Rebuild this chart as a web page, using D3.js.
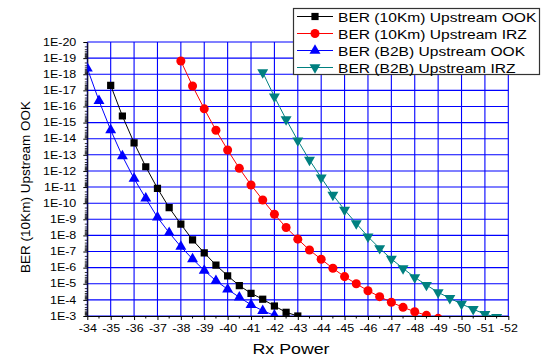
<!DOCTYPE html>
<html><head><meta charset="utf-8">
<script src="https://cdn.jsdelivr.net/npm/d3@7"></script>
<style>body{margin:0;background:#fff}svg{display:block;font-family:"Liberation Sans",Arial,sans-serif}</style>
</head><body><svg id="c" width="541" height="360"></svg>
<script>
const seriesNames = ["BER (10Km) Upstream OOK","BER (10Km) Upstream IRZ","BER (B2B) Upstream OOK","BER (B2B) Upstream IRZ"];
const pow10kmOOK = [-35,-35.5,-36,-36.5,-37,-37.5,-38,-38.5,-39,-39.5,-40,-40.5,-41,-41.5,-42,-42.5,-43];
const ber10kmOOK = [4.9e-18,3.9e-16,1.8e-14,5.5e-13,1.2e-11,1.9e-10,2.0e-9,1.9e-8,1.2e-7,6.9e-7,3.2e-6,1.3e-5,3.9e-5,9.1e-5,2.4e-4,5.9e-4,1.0e-3];
const pow10kmIRZ = [-38,-38.5,-39,-39.5,-40,-40.5,-41,-41.5,-42,-42.5,-43,-43.5,-44,-44.5,-45,-45.5,-46,-46.5,-47,-47.5,-48,-48.5,-49];
const ber10kmIRZ = [1.5e-19,5.4e-18,1.4e-16,3.0e-15,5.0e-14,6.9e-13,7.4e-12,6.3e-11,4.9e-10,3.2e-9,1.7e-8,8.1e-8,3.0e-7,1.1e-6,3.6e-6,1.0e-5,2.7e-5,6.3e-5,1.4e-4,2.9e-4,5.4e-4,9.1e-4,1.4e-3];
const powB2bOOK = [-34,-34.5,-35,-35.5,-36,-36.5,-37,-37.5,-38,-38.5,-39,-39.5,-40,-40.5,-41,-41.5,-42];
const berB2bOOK = [4.3e-19,4.4e-17,2.9e-15,1.2e-13,3.0e-12,5.0e-11,7.6e-10,6.8e-9,5.0e-8,2.9e-7,1.5e-6,6.5e-6,2.2e-5,6.9e-5,2.0e-4,4.7e-4,9.1e-4];
const powB2bIRZ = [-41.5,-42,-42.5,-43,-43.5,-44,-44.5,-45,-45.5,-46,-46.5,-47,-47.5,-48,-48.5,-49,-49.5,-50,-50.5,-51,-51.5];
const berB2bIRZ = [7.6e-19,2.5e-17,6.3e-16,1.3e-14,2.1e-13,2.6e-12,3.1e-11,2.6e-10,1.8e-9,1.2e-8,6.3e-8,2.9e-7,1.1e-6,4.0e-6,1.2e-5,3.4e-5,7.9e-5,1.8e-4,3.8e-4,7.6e-4,1.2e-3];
const xTicks = [-34,-35,-36,-37,-38,-39,-40,-41,-42,-43,-44,-45,-46,-47,-48,-49,-50,-51,-52];
const yTicks = [1e-20,1e-19,1e-18,1e-17,1e-16,1e-15,1e-14,1e-13,1e-12,1e-11,1e-10,1e-9,1e-8,1e-7,1e-6,1e-5,1e-4,1e-3];
const yTickLabels = ["1E-20","1E-19","1E-18","1E-17","1E-16","1E-15","1E-14","1E-13","1E-12","1E-11","1E-10","1E-9","1E-8","1E-7","1E-6","1E-5","1E-4","1E-3"];
const xTitle = "Rx Power", yTitle = "BER (10Km) Upstream OOK";

const L=87.3,R=508.3,T=42,B=316;
const svg=d3.select("#c");
const x=d3.scaleLinear().domain([-34,-52]).range([L,R]);
const y=d3.scaleLog().domain([1e-3,1e-20]).range([B,T]);

// grid
const grid=svg.append("g");
grid.selectAll(".gv").data(xTicks).join("line").attr("x1",d=>x(d)).attr("x2",d=>x(d)).attr("y1",T).attr("y2",B).attr("stroke","#0000ff").attr("stroke-width",1.1);
grid.selectAll(".gh").data(yTicks).join("line").attr("x1",L).attr("x2",R).attr("y1",d=>y(d)).attr("y2",d=>y(d)).attr("stroke","#0000ff").attr("stroke-width",1.1);

// minor ticks
const minorY=[];
for(let e=-20;e<-3;e++){for(let m=2;m<=9;m++)minorY.push(m*Math.pow(10,e));}
svg.append("g").selectAll("line").data(minorY).join("line").attr("x1",L-2.5).attr("x2",L).attr("y1",d=>y(d)).attr("y2",d=>y(d)).attr("stroke","#000").attr("stroke-width",0.8);
const minorX=xTicks.slice(0,-1).map(d=>d-0.5);
svg.append("g").selectAll("line").data(minorX).join("line").attr("x1",d=>x(d)).attr("x2",d=>x(d)).attr("y1",B).attr("y2",B+2.5).attr("stroke","#000");

// axes
const ax=svg.append("g").attr("transform",`translate(0,${B})`).call(d3.axisBottom(x).tickValues(xTicks).tickFormat(d=>String(d)).tickSizeInner(4).tickSizeOuter(0));
ax.selectAll("text").attr("font-size",10).attr("font-family","Liberation Sans, Arial").attr("y",9).attr("dy","0.71em").attr("transform","scale(1.25,1)").attr("fill","#000");
const ay=svg.append("g").attr("transform",`translate(${L},0)`).call(d3.axisLeft(y).tickValues(yTicks).tickFormat((d,i)=>yTickLabels[i]).tickSizeInner(4).tickSizeOuter(0));
ay.selectAll("text").attr("font-size",10).attr("font-family","Liberation Sans, Arial").attr("x",-8.8).attr("transform","scale(1.25,1)").attr("fill","#000");
svg.selectAll(".domain").attr("stroke","#000");
svg.selectAll(".tick line").attr("stroke","#000");

// clip
svg.append("clipPath").attr("id","pc").append("rect").attr("x",L).attr("y",T-12).attr("width",R-L+10).attr("height",B-T+12);

const series=[
 {name:seriesNames[0],px:pow10kmOOK,py:ber10kmOOK,color:"#000000",sym:d3.symbolSquare,size:52,rot:0},
 {name:seriesNames[1],px:pow10kmIRZ,py:ber10kmIRZ,color:"#ff0000",sym:d3.symbolCircle,size:64,rot:0},
 {name:seriesNames[2],px:powB2bOOK,py:berB2bOOK,color:"#0000ff",sym:d3.symbolTriangle,size:52,rot:0},
 {name:seriesNames[3],px:powB2bIRZ,py:berB2bIRZ,color:"#008080",sym:d3.symbolTriangle,size:52,rot:180}
];
const plot=svg.append("g").attr("clip-path","url(#pc)");
const line=d3.line().x(d=>x(d[0])).y(d=>y(d[1]));
series.forEach(s=>{
  const pts=s.px.map((p,i)=>[p,s.py[i]]);
  plot.append("path").attr("d",line(pts)).attr("fill","none").attr("stroke",s.color).attr("stroke-width",1);
  plot.selectAll(null).data(pts).join("path").attr("d",d3.symbol(s.sym,s.size)()).attr("fill",s.color)
    .attr("transform",d=>`translate(${x(d[0])},${y(d[1])}) rotate(${s.rot})`);
});

// titles
svg.append("text").attr("transform",`translate(291,354) scale(1.27,1)`).attr("text-anchor","middle").attr("font-size",14).text(xTitle);
svg.append("text").attr("transform",`translate(30,187) rotate(-90)`).attr("text-anchor","middle").attr("font-size",13.5).text(yTitle);

// legend
const lg=svg.append("g");
lg.append("rect").attr("x",293.5).attr("y",8.5).attr("width",246).attr("height",66).attr("fill","#fff").attr("stroke","#333").attr("stroke-width",1.2);
series.forEach((s,i)=>{
  const cy=16.5+i*17;
  lg.append("line").attr("x1",297).attr("x2",333).attr("y1",cy).attr("y2",cy).attr("stroke",s.color).attr("stroke-width",1);
  lg.append("path").attr("d",d3.symbol(s.sym,s.size)()).attr("fill",s.color).attr("transform",`translate(315,${cy}) rotate(${s.rot})`);
  lg.append("text").attr("transform",`translate(338,${cy+5}) scale(1.2,1)`).attr("font-size",13).text(s.name);
});
</script></body></html>
